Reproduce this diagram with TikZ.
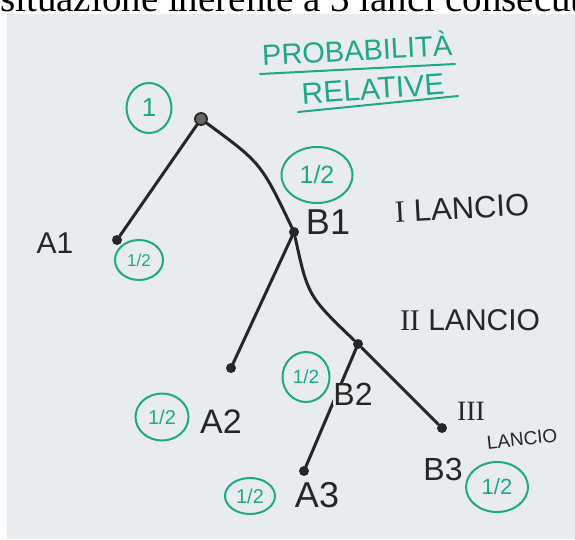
\documentclass[tikz,border=0pt]{standalone}
\usepackage{fontspec}
\setmainfont{Liberation Sans}
\newfontfamily\serifnum{Liberation Serif}
\usetikzlibrary{shapes.geometric}
\definecolor{paper}{HTML}{E8ECEE}
\definecolor{ink}{HTML}{262626}
\definecolor{grn}{HTML}{1FA888}
\newcommand{\fs}[1]{\fontsize{#1}{#1}\selectfont}
\begin{document}
\begin{tikzpicture}[x=1pt,y=-1pt,
  dot/.style={circle,fill=ink,inner sep=0pt,minimum size=10pt},
  lbl/.style={text=ink,inner sep=1pt},
  prob/.style={draw=grn,ellipse,line width=2pt,text=grn,inner sep=0pt},
  edge/.style={draw=ink,line width=3pt,line cap=round},
  ttl/.style={text=grn,inner sep=0pt},
  uline/.style={draw=grn,line width=2pt,line cap=round},
]
\useasboundingbox (0,0) rectangle (575,539);
\clip (0,0) rectangle (575,539);
\node[anchor=base west,inner sep=0pt,font=\serifnum\fs{39}] (top) at (0,11) {situazione inerente a 3 lanci consecutivi};
\fill[paper] (7,14) rectangle (575,539);

% title
\node[ttl,font=\fs{29},rotate=3] (pt) at (357,48) {PROBABILITÀ};
\draw[uline] (260,74) -- (455,64);
\node[ttl,font=\fs{30},rotate=4] (rel) at (373,89) {RELATIVE};
\draw[uline] (298,112) -- (458,96);

% probabilities
\node[prob,minimum width=45pt,minimum height=50pt,font=\fs{26}] (p0) at (149,108) {1};
\node[prob,minimum width=71pt,minimum height=56pt,font=\fs{25}] (pB1) at (317,175) {1/2};
\node[prob,minimum width=48pt,minimum height=40pt,font=\fs{17}] (pA1) at (139,260) {1/2};
\node[prob,minimum width=53pt,minimum height=47pt,font=\fs{20}] (pA2) at (162,417) {1/2};
\node[prob,minimum width=47pt,minimum height=50pt,font=\fs{19}] (pB2) at (306,377) {1/2};
\node[prob,minimum width=50pt,minimum height=36pt,font=\fs{20}] (pA3) at (250,496) {1/2};
\node[prob,minimum width=62pt,minimum height=50pt,font=\fs{22}] (pB3) at (497,487) {1/2};

% dots
\node[dot,minimum size=12pt,fill=ink!70,draw=ink,line width=1.8pt] (root) at (201,119) {};
\node[dot] (a1) at (117,240) {};
\node[dot] (b1) at (294,232) {};
\node[dot] (a2) at (231,368) {};
\node[dot] (b2) at (358,344) {};
\node[dot] (a3) at (304,471) {};
\node[dot] (b3) at (442,428) {};

% edges
\draw[edge] (root) -- (a1);
\draw[edge] (root) .. controls (261,163) .. (b1);
\draw[edge] (b1) -- (a2);
\draw[edge] (b1) .. controls (308,296) .. (b2);
\draw[edge] (b2) -- (b3);
\draw[edge] (b2) -- (a3);

% labels
\node[lbl,font=\fs{30}] (tA1) at (55,243) {A1};
\node[lbl,font=\fs{36}] (tB1) at (328,222) {B1};
\node[lbl,font=\fs{31},rotate=3] (tL1) at (462,208) {{\serifnum I} LANCIO};
\node[lbl,font=\fs{30}] (tL2) at (470,320) {{\serifnum II} LANCIO};
\node[lbl,font=\fs{34}] (tA2) at (221,422) {A2};
\node[lbl,font=\fs{32},fill=paper,inner sep=0pt] (tB2) at (353,394) {B2};
\node[lbl,font=\fs{36}] (tA3) at (317,495) {A3};
\node[lbl,font=\serifnum\fs{28},inner sep=0pt] (tL3) at (471,411) {III};
\node[lbl,font=\fs{19},rotate=6,inner sep=0pt] (tL3b) at (522,439) {LANCIO};
\node[lbl,font=\fs{32}] (tB3) at (443,469) {B3};
\end{tikzpicture}
\end{document}
